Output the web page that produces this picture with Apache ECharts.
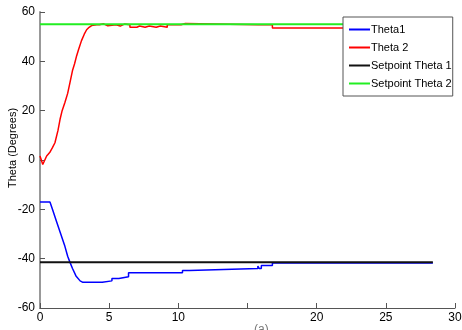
<!DOCTYPE html>
<html>
    <head>
        <meta charset="UTF-8">
        <title>Theta response</title>
        <script type="text/javascript" src="https://cdn.jsdelivr.net/npm/echarts@6/dist/echarts.min.js"></script>
        <style>
            html, body { margin: 0; padding: 0; background: #fff; }
            #container { width: 462px; height: 330px; }
        </style>
    </head>
    <body>
        <div id="container"></div>
        <script type="text/javascript">
            // values (time in s, angle in degrees)
            var theta1Time = [0, 0.72, 0.9, 1.2, 1.5, 1.8, 2.0, 2.17, 2.35, 2.6, 2.9, 3.1, 4.5, 4.5, 5.2, 5.2, 5.7, 5.7, 6.4, 6.4,
                10.3, 10.3, 10.8, 10.8, 15.75, 15.75, 15.85, 15.85, 16.0, 16.0, 16.8, 16.8, 28.4];
            var theta1Deg = [-17, -17, -20, -25, -30, -35, -39, -41.5, -44, -47, -49, -49.6, -49.6, -49, -49, -48, -48, -47.3, -47.3, -45.7,
                -45.7, -44.8, -44.8, -44, -44, -43, -43, -44, -44, -42.8, -42.8, -41.8, -41.8];

            var theta2Time = [0, 0.2, 0.48, 0.7, 0.9, 1.08, 1.3, 1.45, 1.6, 1.8, 2.0, 2.17, 2.36, 2.5, 2.65, 2.8, 3.0, 3.2, 3.37, 3.55, 3.73, 4.1,
                4.3, 4.3, 4.6, 4.6, 4.9, 4.9, 5.5, 5.5, 5.8, 5.8, 6.1, 6.1, 6.5, 6.5, 7.0, 7.0, 7.2, 7.2, 7.6, 7.6, 7.9, 7.9,
                8.4, 8.4, 8.7, 8.7, 9.2, 9.2, 10.2, 10.2, 10.5, 10.5, 15.8, 15.8, 15.9, 15.9, 16.8, 16.8, 28.4];
            var theta2Deg = [1.6, -1.8, 1.6, 3, 5, 7, 12, 16.5, 20, 23.3, 27, 31.5, 36.5, 39, 42.3, 45, 48.4, 51, 52.8, 53.8, 54.5, 54.8,
                54.8, 55.2, 55.2, 54.4, 54.4, 54.8, 54.8, 54.3, 54.3, 55.1, 55.1, 54.8, 54.8, 53.8, 53.8, 54.3, 54.3, 53.8, 53.8, 54.3, 54.3, 53.8,
                53.8, 54.3, 54.3, 53.8, 53.8, 54.8, 54.8, 55.3, 55.3, 54.8, 54.8, 55.3, 55.3, 54.8, 54.8, 53.5, 53.5];

            var setpointTime = [0, 28.4];
            var setpoint1 = [-41.5, -41.5];
            var setpoint2 = [55, 55];

            var seriesNames = ['Theta1', 'Theta 2', 'Setpoint Theta 1', 'Setpoint Theta 2'];
            var xTicks = [0, 5, 10, 15, 20, 25, 30];
            var yTicks = [-60, -40, -20, 0, 20, 40, 60];

            function pairs(xs, ys) {
                var out = [];
                for (var i = 0; i < xs.length; i++) {
                    out.push([xs[i], ys[i]]);
                }
                return out;
            }

            var myChart = echarts.init(document.getElementById('container'));
            var font = 'Liberation Sans, Arial, sans-serif';

            function line(name, xs, ys, color, width) {
                return {
                    name: name,
                    type: 'line',
                    data: pairs(xs, ys),
                    showSymbol: false,
                    symbol: 'none',
                    lineStyle: {color: color, width: width},
                    itemStyle: {color: color}
                };
            }

            var option = {
                animation: false,
                backgroundColor: '#fff',
                grid: {left: 40, top: 12, right: 7, bottom: 22, containLabel: false, outerBoundsMode: 'none'},
                legend: {
                    orient: 'vertical',
                    left: 343,
                    top: 17,
                    padding: [7, 1, 7, 6],
                    backgroundColor: '#fff',
                    borderColor: '#555',
                    borderWidth: 1,
                    itemWidth: 21,
                    itemHeight: 2,
                    itemGap: 7,
                    icon: 'rect',
                    textStyle: {fontFamily: font, fontSize: 11, color: '#000', padding: [0, 0, 0, -4]},
                    data: seriesNames
                },
                xAxis: {
                    type: 'value',
                    min: 0,
                    max: 30,
                    interval: 5,
                    axisLine: {show: true, onZero: false, lineStyle: {color: '#555', width: 1}},
                    axisTick: {show: true, inside: true, length: 5, lineStyle: {color: '#555'}},
                    splitLine: {show: false},
                    axisLabel: {
                        fontFamily: font, fontSize: 12, color: '#000', margin: 4,
                        formatter: function (v) { return v === xTicks[3] ? '' : String(v); }
                    }
                },
                yAxis: {
                    type: 'value',
                    min: yTicks[0],
                    max: yTicks[yTicks.length - 1],
                    interval: 20,
                    name: 'Theta (Degrees)',
                    nameLocation: 'middle',
                    nameGap: 22,
                    nameMoveOverlap: false,
                    nameTextStyle: {fontFamily: font, fontSize: 11, color: '#000', padding: [0, 0, 0, 24]},
                    axisLine: {show: true, lineStyle: {color: '#999', width: 2}},
                    axisTick: {show: true, inside: true, length: 5, lineStyle: {color: '#555'}},
                    splitLine: {show: false},
                    axisLabel: {fontFamily: font, fontSize: 12, color: '#000', margin: 5}
                },
                graphic: [{
                    type: 'text',
                    left: 254,
                    top: 324,
                    style: {text: '(a)', font: '12px Liberation Sans, Arial', fill: '#777'}
                }],
                series: [
                    line(seriesNames[0], theta1Time, theta1Deg, '#0000ff', 1.5),
                    line(seriesNames[1], theta2Time, theta2Deg, '#ff0000', 1.5),
                    line(seriesNames[2], setpointTime, setpoint1, '#111', 2),
                    line(seriesNames[3], setpointTime, setpoint2, '#22ee22', 2)
                ]
            };
            myChart.setOption(option);
        </script>
    </body>
</html>
